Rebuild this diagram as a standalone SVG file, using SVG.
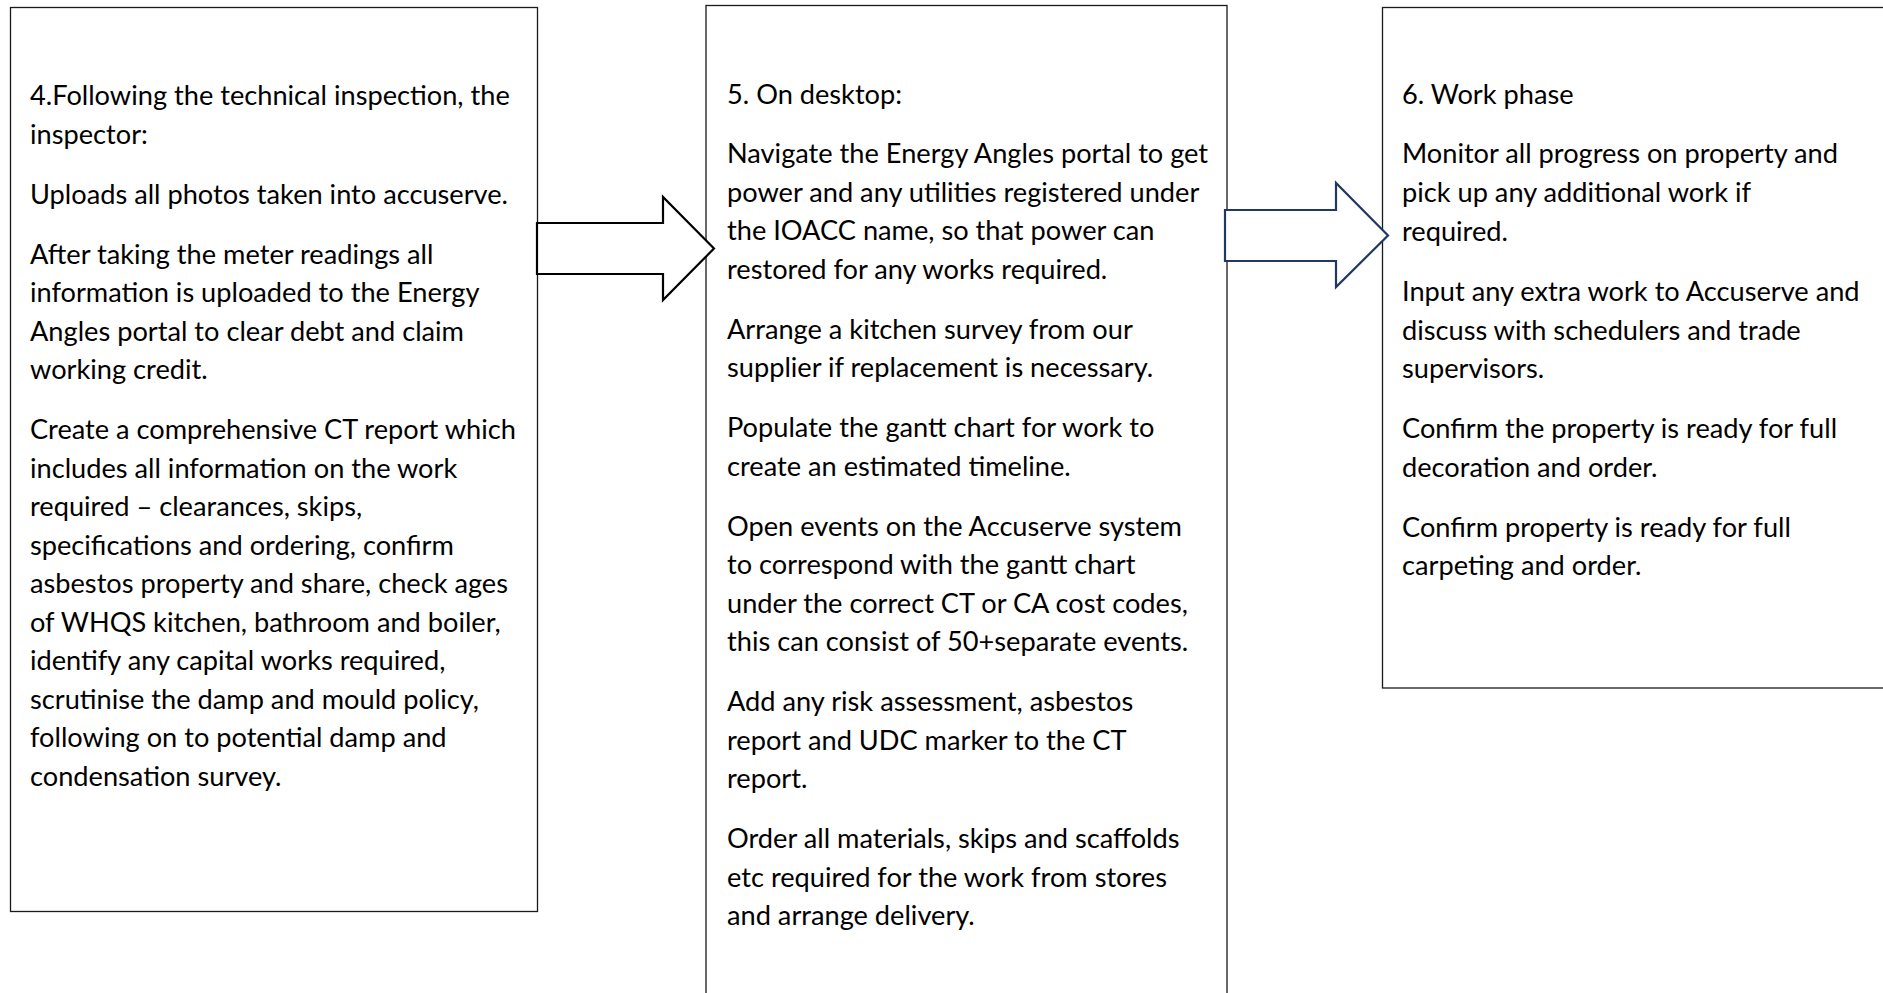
<svg xmlns="http://www.w3.org/2000/svg" width="1883" height="993" viewBox="0 0 1883 993">
<style>
.box{fill:#fff;stroke:#1a1a1a;stroke-width:1.3}
.t{font-family:Lato,"Liberation Sans",sans-serif;font-size:27.2px;fill:#000}
.a1{fill:#fff;stroke:#000;stroke-width:2.2;stroke-linejoin:miter}
.a2{fill:#fff;stroke:#1f3864;stroke-width:2.2;stroke-linejoin:miter}
</style>
<rect width="1883" height="993" fill="#fff"/>
<g id="node-step4">
<rect class="box" x="10.5" y="7.5" width="527" height="904"/>
<text class="t" x="30" y="105">4.Following the technical inspection, the</text>
<text class="t" x="30" y="143.5">inspector:</text>
<text class="t" x="30" y="203.5">Uploads all photos taken into accuserve.</text>
<text class="t" x="30" y="263.5">After taking the meter readings all</text>
<text class="t" x="30" y="302">information is uploaded to the Energy</text>
<text class="t" x="30" y="340.5">Angles portal to clear debt and claim</text>
<text class="t" x="30" y="379">working credit.</text>
<text class="t" x="30" y="439">Create a comprehensive CT report which</text>
<text class="t" x="30" y="477.5">includes all information on the work</text>
<text class="t" x="30" y="516">required – clearances, skips,</text>
<text class="t" x="30" y="554.5">specifications and ordering, confirm</text>
<text class="t" x="30" y="593">asbestos property and share, check ages</text>
<text class="t" x="30" y="631.5">of WHQS kitchen, bathroom and boiler,</text>
<text class="t" x="30" y="670">identify any capital works required,</text>
<text class="t" x="30" y="708.5">scrutinise the damp and mould policy,</text>
<text class="t" x="30" y="747">following on to potential damp and</text>
<text class="t" x="30" y="785.5">condensation survey.</text>
</g>
<g id="node-step5">
<rect class="box" x="706" y="5.5" width="521" height="1000"/>
<text class="t" x="727" y="104">5. On desktop:</text>
<text class="t" x="727" y="163">Navigate the Energy Angles portal to get</text>
<text class="t" x="727" y="201.5">power and any utilities registered under</text>
<text class="t" x="727" y="240">the IOACC name, so that power can</text>
<text class="t" x="727" y="278.5">restored for any works required.</text>
<text class="t" x="727" y="338.5">Arrange a kitchen survey from our</text>
<text class="t" x="727" y="377">supplier if replacement is necessary.</text>
<text class="t" x="727" y="437">Populate the gantt chart for work to</text>
<text class="t" x="727" y="475.5">create an estimated timeline.</text>
<text class="t" x="727" y="535.5">Open events on the Accuserve system</text>
<text class="t" x="727" y="574">to correspond with the gantt chart</text>
<text class="t" x="727" y="612.5">under the correct CT or CA cost codes,</text>
<text class="t" x="727" y="651">this can consist of 50+separate events.</text>
<text class="t" x="727" y="711">Add any risk assessment, asbestos</text>
<text class="t" x="727" y="749.5">report and UDC marker to the CT</text>
<text class="t" x="727" y="788">report.</text>
<text class="t" x="727" y="848">Order all materials, skips and scaffolds</text>
<text class="t" x="727" y="886.5">etc required for the work from stores</text>
<text class="t" x="727" y="925">and arrange delivery.</text>
</g>
<g id="node-step6">
<rect class="box" x="1382.5" y="7.5" width="520" height="680.5"/>
<text class="t" x="1402" y="104">6. Work phase</text>
<text class="t" x="1402" y="163">Monitor all progress on property and</text>
<text class="t" x="1402" y="201.5">pick up any additional work if</text>
<text class="t" x="1402" y="241">required.</text>
<text class="t" x="1402" y="301">Input any extra work to Accuserve and</text>
<text class="t" x="1402" y="339.5">discuss with schedulers and trade</text>
<text class="t" x="1402" y="378">supervisors.</text>
<text class="t" x="1402" y="438">Confirm the property is ready for full</text>
<text class="t" x="1402" y="476.5">decoration and order.</text>
<text class="t" x="1402" y="536.5">Confirm property is ready for full</text>
<text class="t" x="1402" y="575">carpeting and order.</text>
</g>
<g id="connectors">
<polygon class="a1" points="537,223 663,223 663,197 714,248.5 663,300 663,274 537,274"/>
<polygon class="a2" points="1225,210 1336,210 1336,183 1388,235.5 1336,287 1336,261 1225,261"/>
</g>
</svg>
